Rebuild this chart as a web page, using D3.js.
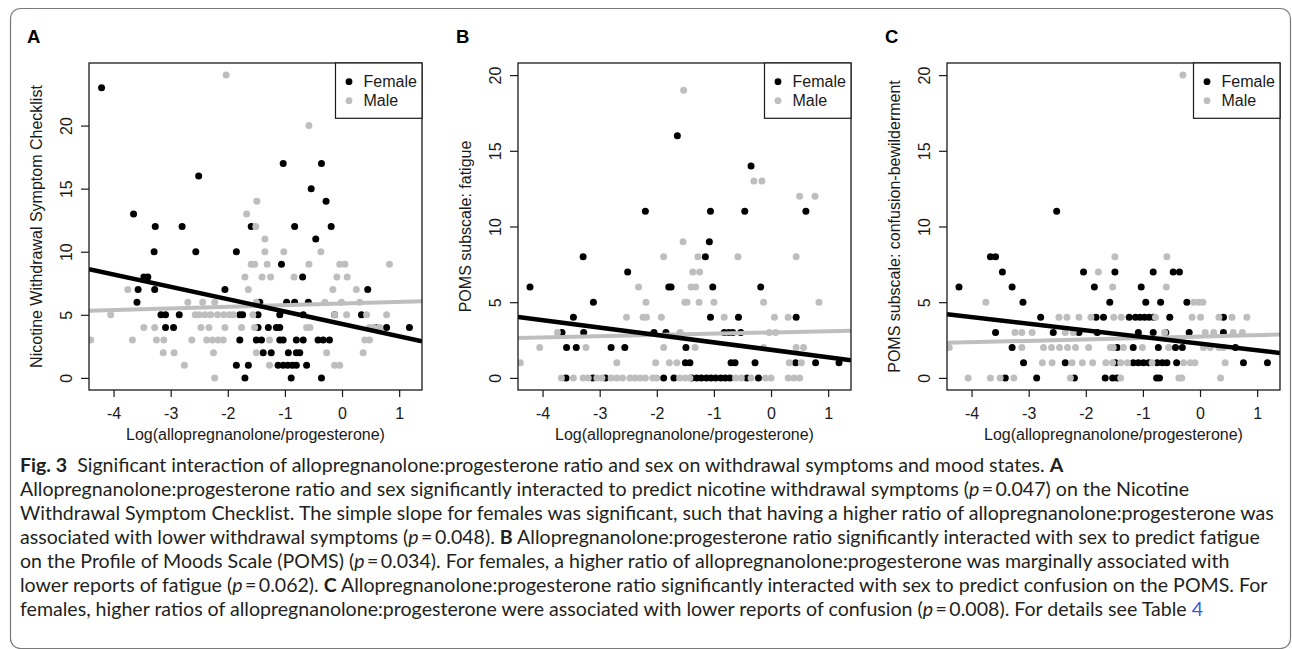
<!DOCTYPE html>
<html>
<head>
<meta charset="utf-8">
<script src="https://cdn.jsdelivr.net/npm/d3@7"></script>
<style>
  body { margin: 0; background: #fff; }
  svg { display: block; }
</style>
</head>
<body>
<script>
// Fig. 3 - allopregnanolone:progesterone ratio x sex, three scatter panels

// ---- data (x = log ratio, y = score) ----
var aFemale = [[-4.21,23],[-1.03,17],[-0.36,17],[-2.51,16],[-0.54,15],[-0.28,14],[-3.65,13],
  [-3.27,12],[-2.80,12],[-1.59,12],[-0.83,12],[-0.19,12],[-0.46,11],
  [-3.29,10],[-2.56,10],[-1.85,10],[-1.06,9],[-3.47,8],[-3.40,8],[-0.69,8],
  [-3.57,7],[-3.28,7],[-2.05,7],[0.45,7],
  [-3.59,6],[-1.44,6],[-0.97,6],[-0.83,6],[-0.59,6],
  [-3.17,5],[-3.09,5],[-2.85,5],[-1.79,5],[-1.74,5],[-1.47,5],[-1.09,5],[-0.68,5],[-0.13,5],[0.34,5],
  [-3.09,4],[-2.95,4],[-1.47,4],[-1.29,4],[-1.15,4],[-1.09,4],[0.58,4],[0.78,4],[1.18,4],
  [-1.79,3],[-1.50,3],[-1.41,3],[-1.09,3],[-1.03,3],[-0.80,3],[-0.68,3],[-0.42,3],[-0.33,3],[-0.22,3],
  [-1.38,2],[-1.24,2],[-0.94,2],[-0.80,2],[-0.74,2],
  [-1.85,1],[-1.64,1],[-1.12,1],[-1.03,1],[-0.95,1],[-0.87,1],[-0.80,1],[-0.62,1],
  [-1.70,0],[-0.89,0],[-0.36,0]];

var aMale = [[-2.03,24],[-0.58,20],[-1.49,14],[-1.67,13],[-1.51,12],[-1.35,11],
  [-1.35,10],[-1.02,10],[-0.37,10],
  [-1.59,9],[-1.53,9],[-1.31,9],[-0.58,9],[-0.04,9],[0.05,9],[0.83,9],
  [-1.70,8],[-1.40,8],[-1.25,8],[-0.84,8],[-0.09,8],[0.09,8],
  [-3.75,7],[-1.64,7],[-0.16,7],[0.25,7],
  [-2.70,6],[-2.44,6],[-2.23,6],[-1.50,6],[-0.30,6],[-0.01,6],[0.31,6],
  [-4.05,5],[-2.57,5],[-2.50,5],[-2.40,5],[-2.30,5],[-2.18,5],[-2.07,5],[-1.97,5],[-1.90,5],[-1.56,5],[-0.13,5],[0.08,5],[0.43,5],[0.78,5],
  [-3.47,4],[-3.28,4],[-2.47,4],[-2.33,4],[-2.05,4],[-1.76,4],[-1.53,4],[-0.62,4],[-0.56,4],[0.48,4],[0.56,4],[0.66,4],
  [-4.40,3],[-3.67,3],[-3.25,3],[-3.12,3],[-2.63,3],[-2.37,3],[-2.27,3],[-2.17,3],[-2.08,3],[-1.27,3],[0.40,3],[0.48,3],
  [-3.13,2],[-2.94,2],[-2.25,2],[-1.50,2],[-0.27,2],[0.37,2],
  [-2.76,1],[-1.27,1],[-0.13,1],[-0.04,1],
  [-2.23,0]];

var bFemale = [[-1.64,16],[-0.35,14],[-2.20,11],[-1.06,11],[-0.46,11],[0.61,11],[-1.08,9],
  [-3.29,8],[-1.15,8],[-2.51,7],
  [-4.22,6],[-1.79,6],[-1.75,6],[-1.02,6],[-0.18,6],[-3.11,5],
  [-3.46,4],[-1.06,4],[-0.57,4],[0.44,4],
  [-3.66,3],[-3.28,3],[-2.05,3],[-1.84,3],[-0.82,3],[-0.74,3],[-0.67,3],[-0.53,3],
  [-3.58,2],[-3.41,2],[-2.80,2],[-2.56,2],[-1.49,2],
  [-1.50,1],[-1.42,1],[-0.70,1],[-0.63,1],[-0.28,1],[0.43,1],[0.78,1],[1.19,1],
  [-3.59,0],[-3.12,0],[-2.90,0],[-1.88,0],[-1.70,0],[-1.39,0],[-1.30,0],[-1.22,0],[-1.13,0],[-1.05,0],
  [-0.97,0],[-0.88,0],[-0.80,0],[-0.72,0],[-0.42,0],[-0.22,0]];

var bMale = [[-1.53,19],[-0.30,13],[-0.16,13],[0.50,12],[0.77,12],[-1.54,9],
  [-1.88,8],[-1.28,8],[-0.58,8],[0.44,8],[-1.37,7],[-1.25,7],
  [-2.32,6],[-1.40,6],[-1.32,6],
  [-2.19,5],[-1.51,5],[-1.47,5],[-1.26,5],[-1.00,5],[-0.13,5],[0.84,5],
  [-2.53,4],[-2.24,4],[-2.18,4],[-1.92,4],[-0.82,4],[0.06,4],[0.30,4],
  [-3.74,3],[-1.59,3],[-0.03,3],[0.08,3],
  [-4.05,2],[-3.24,2],[-1.88,2],[-1.33,2],[-0.13,2],[0.44,2],[0.57,2],
  [-4.39,1],[-2.70,1],[-2.02,1],[-1.78,1],[-1.65,1],[0.32,1],[0.53,1],
  [-3.67,0],[-3.46,0],[-3.29,0],[-3.20,0],[-3.05,0],[-2.96,0],[-2.80,0],[-2.70,0],[-2.60,0],
  [-2.47,0],[-2.38,0],[-2.29,0],[-2.20,0],[-2.07,0],[-2.00,0],[-1.60,0],[-1.50,0],[-1.42,0],
  [-0.62,0],[-0.52,0],[-0.35,0],[-0.10,0],[0.00,0],[0.30,0],[0.40,0],[0.50,0]];

var cFemale = [[-2.51,11],[-3.67,8],[-3.58,8],
  [-3.46,7],[-2.04,7],[-1.49,7],[-0.82,7],[-0.47,7],[-0.36,7],
  [-4.22,6],[-3.29,6],[-1.85,6],[-1.03,6],
  [-3.10,5],[-1.58,5],[-0.95,5],[-0.69,5],[-0.23,5],
  [-2.79,4],[-1.82,4],[-1.69,4],[-1.24,4],[-1.13,4],[-1.05,4],[-0.97,4],[-0.89,4],[-0.81,4],[-0.53,4],[0.41,4],
  [-3.58,3],[-2.57,3],[-2.12,3],[-1.80,3],[-1.08,3],[-0.82,3],[-0.60,3],[-0.19,3],[0.41,3],
  [-3.29,2],[-1.45,2],[-1.17,2],[-0.73,2],[-0.43,2],[-0.31,2],[0.62,2],
  [-3.09,1],[-2.36,1],[-1.48,1],[-1.17,1],[-1.08,1],[-0.99,1],[-0.90,1],[-0.75,1],[-0.66,1],[-0.58,1],[-0.41,1],[0.76,1],[1.18,1],
  [-3.41,0],[-2.86,0],[-2.20,0],[-1.66,0],[-1.53,0],[-1.45,0],[-0.76,0],[-0.71,0]];

var cMale = [[-0.30,20],[-1.49,8],[-0.58,8],[-1.78,7],[-1.53,6],[-0.59,6],
  [-3.75,5],[-0.11,5],[-0.02,5],[0.05,5],
  [-2.47,4],[-2.33,4],[-2.12,4],[-1.91,4],[-1.51,4],[-1.38,4],[-0.78,4],[-0.14,4],[0.01,4],[0.33,4],[0.56,4],[0.82,4],
  [-3.24,3],[-3.12,3],[-2.94,3],[-2.36,3],[-2.22,3],[-0.62,3],[0.09,3],[0.24,3],[0.58,3],[0.74,3],
  [-4.39,2],[-3.12,2],[-2.74,2],[-2.60,2],[-2.46,2],[-2.32,2],[-2.18,2],[-1.95,2],[-1.57,2],[-1.52,2],
  [-1.34,2],[-1.01,2],[-0.55,2],[0.06,2],[0.18,2],[0.33,2],[0.41,2],
  [-2.76,1],[-2.59,1],[-2.24,1],[-2.06,1],[-1.88,1],[-1.65,1],[-1.53,1],[-1.39,1],[-1.27,1],[-0.84,1],
  [-0.29,1],[-0.17,1],[-0.09,1],[0.44,1],
  [-4.06,0],[-3.67,0],[-3.50,0],[-3.26,0],[-2.27,0],[-1.39,0],[-0.37,0],[-0.32,0],[0.36,0]];

// simple slopes [intercept, slope] per panel
var fitFemale = [[4.28, -0.979], [1.855, -0.491], [2.265, -0.439]];
var fitMale = [[5.90, 0.130], [3.00, 0.081], [2.73, 0.094]];

var letters = ["A", "B", "C"];
var yTitles = ["Nicotine Withdrawal Symptom Checklist", "POMS subscale: fatigue", "POMS subscale: confusion-bewilderment"];
var xTitle = "Log(allopregnanolone/progesterone)";
var xTicks = [-4, -3, -2, -1, 0, 1];
var yTicks = [0, 5, 10, 15, 20];
var yDomains = [[-0.96, 24.96], [-0.8, 20.8], [-0.8, 20.8]];
var xDomain = [-4.43, 1.40];
var legendLabels = ["Female", "Male"];

var females = [aFemale, bFemale, cFemale];
var males = [aMale, bMale, cMale];

// ---- layout ----
var W = 1292, H = 649;
var plotLeft = [89, 518, 947];
var plotW = 333, plotTop = 63, plotBottom = 390;
var colF = "#000", colM = "#bebebe";
var rFont = "'Liberation Sans', Arial, Helvetica, sans-serif";

var svg = d3.select("body").append("svg").attr("width", W).attr("height", H);
svg.append("rect").attr("width", W).attr("height", H).attr("fill", "#fff");

// card frame
svg.append("rect")
  .attr("x", 10.5).attr("y", 8.5).attr("width", 1280).attr("height", 640)
  .attr("rx", 10).attr("fill", "none").attr("stroke", "#7a7a7a").attr("stroke-width", 1.2);

var defs = svg.append("defs");

function drawPanel(i) {
  var left = plotLeft[i];
  var x = d3.scaleLinear().domain(xDomain).range([left, left + plotW]);
  var y = d3.scaleLinear().domain(yDomains[i]).range([plotBottom, plotTop]);

  var g = svg.append("g").attr("class", "panel");

  defs.append("clipPath").attr("id", "clip" + i)
    .append("rect").attr("x", left).attr("y", plotTop)
    .attr("width", plotW).attr("height", plotBottom - plotTop);

  var inner = g.append("g").attr("clip-path", "url(#clip" + i + ")");

  // points: females under males
  inner.selectAll(".f").data(females[i]).enter().append("circle")
    .attr("class", "f")
    .attr("cx", function(d) { return x(d[0]); })
    .attr("cy", function(d) { return y(d[1]); })
    .attr("r", 3.5).attr("fill", colF);
  inner.selectAll(".m").data(males[i]).enter().append("circle")
    .attr("class", "m")
    .attr("cx", function(d) { return x(d[0]); })
    .attr("cy", function(d) { return y(d[1]); })
    .attr("r", 3.5).attr("fill", colM);

  // fitted lines (abline style, across whole region)
  var line = d3.line().x(function(d) { return x(d); });
  [[fitMale[i], colM, 4], [fitFemale[i], colF, 4.5]].forEach(function(f) {
    var c = f[0];
    inner.append("path")
      .attr("d", line.y(function(d) { return y(c[0] + c[1] * d); })(xDomain))
      .attr("stroke", f[1]).attr("stroke-width", f[2]).attr("fill", "none");
  });

  // box
  g.append("rect").attr("x", left).attr("y", plotTop)
    .attr("width", plotW).attr("height", plotBottom - plotTop)
    .attr("fill", "none").attr("stroke", "#1a1a1a").attr("stroke-width", 1.3);

  // axes
  var xAxis = d3.axisBottom(x).tickValues(xTicks).tickSize(7).tickPadding(9)
    .tickFormat(function(d) { return String(d); });
  var gx = g.append("g").attr("transform", "translate(0," + plotBottom + ")").call(xAxis);
  gx.select(".domain").remove();
  gx.selectAll("text").attr("font-size", 16).attr("font-family", rFont).attr("fill", "#1a1a1a")
    .attr("dy", 0).attr("y", 28.5);
  gx.selectAll("line").attr("stroke", "#1a1a1a").attr("stroke-width", 1.2);

  var yAxis = d3.axisLeft(y).tickValues(yTicks).tickSize(8);
  var gy = g.append("g").attr("transform", "translate(" + left + ",0)").call(yAxis);
  gy.select(".domain").remove();
  gy.selectAll("line").attr("stroke", "#1a1a1a").attr("stroke-width", 1.2);
  gy.selectAll("text")
    .attr("transform", "rotate(-90)")
    .attr("x", 0).attr("y", -17.5).attr("dy", 0)
    .attr("text-anchor", "middle")
    .attr("font-size", 16).attr("font-family", rFont).attr("fill", "#1a1a1a");

  // titles
  g.append("text").attr("x", left + plotW / 2).attr("y", 440)
    .attr("text-anchor", "middle").attr("font-family", rFont).attr("font-size", 16)
    .attr("fill", "#1a1a1a").text(xTitle);
  g.append("text")
    .attr("transform", "translate(" + (left - 47.5) + "," + ((plotTop + plotBottom) / 2) + ") rotate(-90)")
    .attr("text-anchor", "middle").attr("font-family", rFont).attr("font-size", 16)
    .attr("fill", "#1a1a1a").text(yTitles[i]);
  g.append("text").attr("x", left - 62).attr("y", 43)
    .attr("font-family", rFont).attr("font-weight", "bold").attr("font-size", 18.5)
    .attr("fill", "#000").text(letters[i]);

  // legend top-right
  var lw = 86.5, lh = 55.3, lx = left + plotW - lw;
  g.append("rect").attr("x", lx).attr("y", plotTop).attr("width", lw).attr("height", lh)
    .attr("fill", "#fff").attr("stroke", "#1a1a1a").attr("stroke-width", 1.2);
  legendLabels.forEach(function(lab, k) {
    var cy = 81.7 + k * 19;
    g.append("circle").attr("cx", lx + 13.5).attr("cy", cy).attr("r", 3.4)
      .attr("fill", k ? colM : colF);
    g.append("text").attr("x", lx + 28).attr("y", cy + 5.6)
      .attr("font-family", rFont).attr("font-size", 16).attr("fill", "#1a1a1a").text(lab);
  });
}

for (var i = 0; i < 3; i++) drawPanel(i);

// ---- caption ----
var captionLines = [
  [["b", "Fig. 3"], ["", "  Significant interaction of allopregnanolone:progesterone ratio and sex on withdrawal symptoms and mood states. "], ["b", "A"]],
  [["", "Allopregnanolone:progesterone ratio and sex significantly interacted to predict nicotine withdrawal symptoms ("], ["i", "p"], ["", "\u2009=\u20090.047) on the Nicotine"]],
  [["", "Withdrawal Symptom Checklist. The simple slope for females was significant, such that having a higher ratio of allopregnanolone:progesterone was"]],
  [["", "associated with lower withdrawal symptoms ("], ["i", "p"], ["", "\u2009=\u20090.048). "], ["b", "B"], ["", " Allopregnanolone:progesterone ratio significantly interacted with sex to predict fatigue"]],
  [["", "on the Profile of Moods Scale (POMS) ("], ["i", "p"], ["", "\u2009=\u20090.034). For females, a higher ratio of allopregnanolone:progesterone was marginally associated with"]],
  [["", "lower reports of fatigue ("], ["i", "p"], ["", "\u2009=\u20090.062). "], ["b", "C"], ["", " Allopregnanolone:progesterone ratio significantly interacted with sex to predict confusion on the POMS. For"]],
  [["", "females, higher ratios of allopregnanolone:progesterone were associated with lower reports of confusion ("], ["i", "p"], ["", "\u2009=\u20090.008). For details see Table "], ["link", "4"]]
];

var capX = 20, capY = 472, capStep = 24;
var cap = svg.append("g").attr("font-family", "Lato, 'Noto Sans', sans-serif").attr("fill", "#231f20");
var capNodes = [];
captionLines.forEach(function(parts, k) {
  var t = cap.append("text").attr("x", capX).attr("y", capY + k * capStep)
    .attr("font-size", 16).attr("xml:space", "preserve").style("white-space", "pre");
  parts.forEach(function(p) {
    var s = t.append("tspan").text(p[1]);
    if (p[0] === "b") s.attr("font-weight", "bold");
    if (p[0] === "i") s.attr("font-style", "italic");
    if (p[0] === "link") s.attr("fill", "#3b5bdb");
  });
  capNodes.push(t);
});
// fit font size so the full third line spans its width in the figure
var len = capNodes[2].node().getComputedTextLength();
var fs = 16 * (1275 - capX) / len;
capNodes.forEach(function(t) { t.attr("font-size", fs); });
</script>
</body>
</html>
